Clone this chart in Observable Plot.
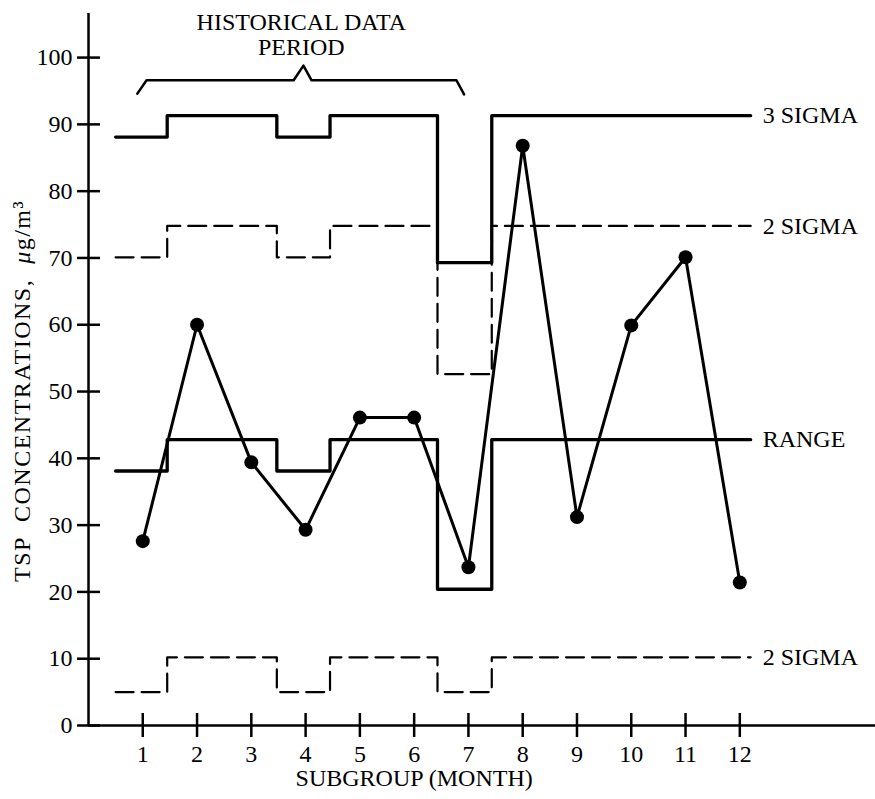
<!DOCTYPE html>
<html><head><meta charset="utf-8">
<script src="https://cdn.jsdelivr.net/npm/d3@7"></script>
<script src="https://cdn.jsdelivr.net/npm/@observablehq/plot@0.6"></script>
<style>body{margin:0;background:#fff}</style>
</head><body><div id="chart"></div>
<script>
// Subgroup (month) and TSP concentrations
const subgroups = [1, 2, 3, 4, 5, 6, 7, 8, 9, 10, 11, 12];
const tsp = [27.6, 60.0, 39.4, 29.3, 46.1, 46.1, 23.7, 86.8, 31.2, 59.9, 70.1, 21.4];

// Control-limit step edges (subgroup boundaries) and the level of each step
const stepEdges = [0.5, 1.45, 3.47, 4.45, 6.43, 7.43, 12.2];
const sigma3Upper = [88.1, 91.3, 88.1, 91.3, 69.3, 91.3];
const sigma2Upper = [70.1, 74.8, 70.1, 74.8, 52.6, 74.8];
const rangeLevel = [38.1, 42.8, 38.1, 42.8, 20.4, 42.8];
const sigma2Lower = [5.0, 10.2, 5.0, 10.2, 5.0, 10.2];

// Right-hand labels of the limit lines
const limitLabels = ["3 SIGMA", "2 SIGMA", "RANGE", "2 SIGMA"];
const limitLabelY = [91.3, 74.8, 42.8, 10.2];

// Brace marking the historical data period
const braceX = [0.90, 1.07, 3.78, 3.96, 4.11, 6.78, 6.92];
const braceY = [94.6, 96.6, 96.6, 98.8, 96.6, 96.6, 94.5];
const periodLines = ["HISTORICAL DATA", "PERIOD"];
const periodLineY = [105.3, 101.5];
const periodX = 3.92;

// Axis ticks and titles
const yTicks = [0, 10, 20, 30, 40, 50, 60, 70, 80, 90, 100];
const xTicks = subgroups;
const xTitle = "SUBGROUP (MONTH)";
const yTitle = "TSP  CONCENTRATIONS,  μg/m³";

const steps = (vals) => stepEdges.map((x, i) => ({x, y: vals[Math.min(i, vals.length - 1)]}));
const pts = subgroups.map((s, i) => ({x: s, y: tsp[i]}));
const brace = braceX.map((x, i) => ({x, y: braceY[i]}));
const labels = limitLabels.map((t, i) => ({t, y: limitLabelY[i], x: stepEdges[stepEdges.length - 1]}));
const period = periodLines.map((t, i) => ({t, y: periodLineY[i], x: periodX}));

const font = "'Liberation Serif', 'Times New Roman', serif";

const chart = Plot.plot({
  width: 875,
  height: 799,
  marginLeft: 88,
  marginRight: 0,
  marginTop: 13,
  marginBottom: 74,
  style: {fontFamily: font, fontSize: "24px", color: "#000", background: "#fff"},
  x: {domain: [0, 14.5]},
  y: {domain: [0, 106.6]},
  marks: [
    Plot.ruleX([0], {stroke: "#000", strokeWidth: 2.5}),
    Plot.ruleY([0], {stroke: "#000", strokeWidth: 2.5}),
    Plot.axisY({ticks: yTicks, tickSize: 23, dx: 12, tickPadding: 5, strokeWidth: 2.5, fontSize: 24, label: null}),
    Plot.axisX({ticks: xTicks, tickSize: 24, dy: -12, tickPadding: 7, strokeWidth: 2.5, fontSize: 24, label: null}),
    Plot.line(steps(sigma3Upper), {x: "x", y: "y", curve: "step-after", stroke: "#000", strokeWidth: 3.3}),
    Plot.line(steps(sigma2Upper), {x: "x", y: "y", curve: "step-after", stroke: "#000", strokeWidth: 2.2, strokeDasharray: "18,8"}),
    Plot.line(steps(rangeLevel), {x: "x", y: "y", curve: "step-after", stroke: "#000", strokeWidth: 3.3}),
    Plot.line(steps(sigma2Lower), {x: "x", y: "y", curve: "step-after", stroke: "#000", strokeWidth: 2.2, strokeDasharray: "18,8"}),
    Plot.line(pts, {x: "x", y: "y", stroke: "#000", strokeWidth: 3}),
    Plot.dot(pts, {x: "x", y: "y", r: 7, fill: "#000", stroke: null}),
    Plot.line(brace, {x: "x", y: "y", stroke: "#000", strokeWidth: 2.5}),
    Plot.text(labels, {x: "x", y: "y", text: "t", dx: 12, textAnchor: "start", fontSize: 24, fill: "#000"}),
    Plot.text(period, {x: "x", y: "y", text: "t", fontSize: 24, fill: "#000"}),
    Plot.text([xTitle], {x: [6], frameAnchor: "bottom", dy: 60, fontSize: 24, fill: "#000"}),
    Plot.text([yTitle], {y: [50.1], frameAnchor: "left", dx: -66, rotate: -90, textAnchor: "middle", fontSize: 24, fill: "#000", className: "ytitle"})
  ]
});
// Italic mu and letter spacing for the y title, as in the original typesetting
d3.select(chart).selectAll(".ytitle text").each(function () {
  const t = d3.select(this);
  const s = t.text();
  const i = s.indexOf("μ");
  if (i < 0) return;
  t.text(null).attr("letter-spacing", "1.5px");
  t.append("tspan").text(s.slice(0, i));
  t.append("tspan").attr("font-style", "italic").text("μ");
  t.append("tspan").text(s.slice(i + 1));
});
document.getElementById("chart").appendChild(chart);
</script>
</body></html>
